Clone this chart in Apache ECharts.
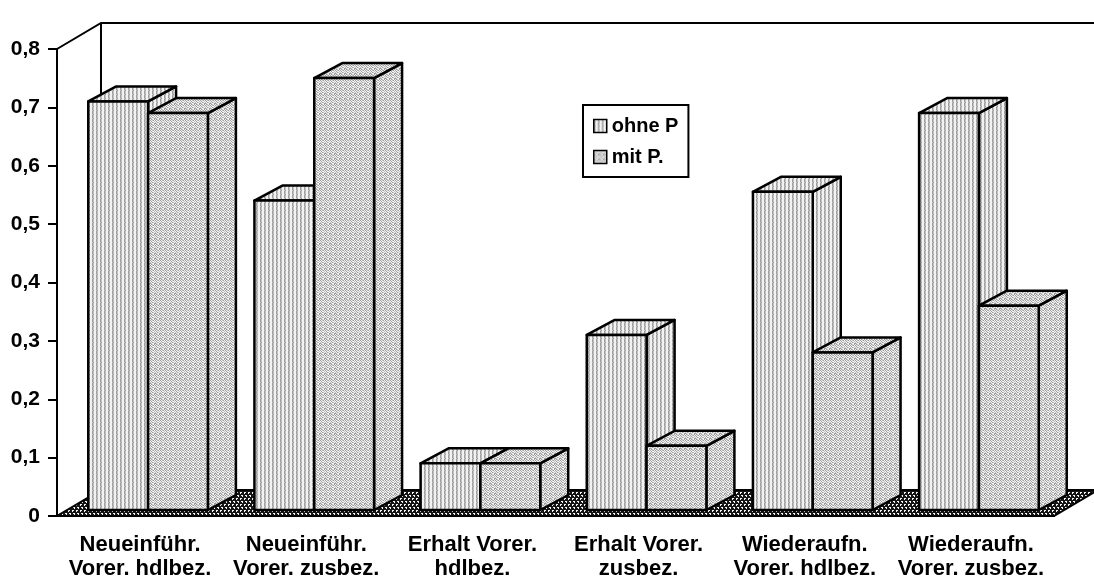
<!DOCTYPE html>
<html>
<head>
<meta charset="utf-8">
<script src="https://cdn.jsdelivr.net/npm/echarts@6/dist/echarts.min.js"></script>
<style>
  html, body { margin: 0; padding: 0; background: #fff; }
  #chart { width: 1094px; height: 581px; }
</style>
</head>
<body>
<div id="chart"></div>
<script>
const categories = [
    'Neueinführ.\nVorer. hdlbez.',
    'Neueinführ.\nVorer. zusbez.',
    'Erhalt Vorer.\nhdlbez.',
    'Erhalt Vorer.\nzusbez.',
    'Wiederaufn.\nVorer. hdlbez.',
    'Wiederaufn.\nVorer. zusbez.'
];
const ohneP = [0.70, 0.53, 0.08, 0.30, 0.545, 0.68];
const mitP = [0.68, 0.74, 0.08, 0.11, 0.27, 0.35];
const seriesNames = ['ohne P', 'mit P.'];

const FONT = '"Liberation Sans", Arial, sans-serif';
// 3d offsets (px): wall/floor depth, bar front plane shift, bar depth
const WALL = [44, -26];
const FRONT = [8, -6];
const DEPTH = [28, -15];

function makePattern(rows) {
    const c = document.createElement('canvas');
    c.width = rows[0].length;
    c.height = rows.length;
    const ctx = c.getContext('2d');
    rows.forEach((row, y) => {
        for (let x = 0; x < row.length; x++) {
            ctx.fillStyle = row[x] === '#' ? '#9c9c9c' : row[x] === '+' ? '#c4c4c4' : row[x] === 'x' ? '#151515' : '#f2f2f2';
            ctx.fillRect(x, y, 1, 1);
        }
    });
    return { image: c, repeat: 'repeat' };
}

// light gray with fine vertical lines
const ohneFill = makePattern(['#+..', '#+..', '+#..', '#+..']);
// darker stipple
const mitFill = makePattern(['#.+#.', '.#..+', '+.#+.', '#+..#', '.#+.#']);
// dark floor with staggered white dots
const floorFill = makePattern(['..xx', '.xxx', 'xxxx', 'x..x', 'xx.x', 'xxxx']);

function wallsItem(params, api) {
    const cs = params.coordSys;
    const y0 = cs.y + cs.height;
    const x0 = cs.x, x1 = cs.x + cs.width;
    const line = { stroke: '#000', lineWidth: 2, fill: null };
    return {
        type: 'group',
        children: [
            {
                type: 'polygon',
                shape: { points: [[x0, y0], [x1, y0], [x1 + WALL[0], y0 + WALL[1]], [x0 + WALL[0], y0 + WALL[1]]] },
                style: { fill: floorFill, stroke: '#000', lineWidth: 2 }
            },
            {
                type: 'polyline',
                shape: { points: [[x0, cs.y], [x0 + WALL[0], cs.y + WALL[1]], [x1 + WALL[0] + 10, cs.y + WALL[1]]] },
                style: line
            },
            {
                type: 'line',
                shape: { x1: x0 + WALL[0], y1: cs.y + WALL[1], x2: x0 + WALL[0], y2: y0 + WALL[1] },
                style: line
            }
        ]
    };
}

function barItem(slot, fill) {
    return function (params, api) {
        const cat = api.value(0);
        const base = api.coord([cat, 0]);
        const top = api.coord([cat, api.value(1)]);
        const band = api.size([1, 0])[0];
        const w = band * 0.36;
        const xa = base[0] - w + slot * w + FRONT[0];
        const xb = xa + w;
        const yb = base[1] + FRONT[1];
        const yt = top[1] + FRONT[1];
        const dx = DEPTH[0], dy = DEPTH[1];
        const st = { fill: fill, stroke: '#000', lineWidth: 2.5, lineJoin: 'round' };
        return {
            type: 'group',
            children: [
                { type: 'polygon', shape: { points: [[xb, yb], [xb + dx, yb + dy], [xb + dx, yt + dy], [xb, yt]] }, style: st },
                { type: 'polygon', shape: { points: [[xa, yt], [xb, yt], [xb + dx, yt + dy], [xa + dx, yt + dy]] }, style: st },
                { type: 'rect', shape: { x: xa, y: yt, width: w, height: yb - yt }, style: st }
            ]
        };
    };
}

const chart = echarts.init(document.getElementById('chart'), null, { renderer: 'canvas' });

chart.setOption({
    animation: false,
    backgroundColor: '#fff',
    textStyle: { fontFamily: FONT },
    grid: { left: 57, right: 40, top: 49, bottom: 63 },
    legend: {
        left: 583,
        top: 105,
        orient: 'vertical',
        icon: 'rect',
        itemWidth: 13,
        itemHeight: 13,
        itemGap: 11,
        padding: [11, 10, 10, 10],
        borderColor: '#000',
        borderWidth: 2,
        data: [
            { name: seriesNames[0], itemStyle: { color: ohneFill, borderColor: '#000', borderWidth: 1.5 } },
            { name: seriesNames[1], itemStyle: { color: mitFill, borderColor: '#000', borderWidth: 1.5 } }
        ],
        textStyle: { fontSize: 20, fontWeight: 'bold', color: '#000', fontFamily: FONT, lineHeight: 20 }
    },
    xAxis: {
        type: 'category',
        data: categories,
        axisLine: { lineStyle: { color: '#000', width: 2 } },
        axisTick: { length: 8, lineStyle: { color: '#000', width: 2 } },
        axisLabel: {
            margin: 17,
            fontSize: 22,
            fontWeight: 'bold',
            color: '#000',
            lineHeight: 24,
            fontFamily: FONT,
            interval: 0
        },
        splitLine: { show: false }
    },
    yAxis: {
        type: 'value',
        min: 0,
        max: 0.8,
        interval: 0.1,
        axisLine: { show: true, lineStyle: { color: '#000', width: 2 } },
        axisTick: { show: true, length: 9, lineStyle: { color: '#000', width: 2 } },
        axisLabel: {
            margin: 17,
            fontSize: 21,
            fontWeight: 'bold',
            color: '#000',
            fontFamily: FONT,
            formatter: v => (v === 0 ? '0' : v.toFixed(1).replace('.', ','))
        },
        splitLine: { show: false }
    },
    series: [
        {
            name: 'walls',
            type: 'custom',
            renderItem: wallsItem,
            data: [[0, 0]],
            silent: true,
            z: 1
        },
        {
            name: seriesNames[0],
            type: 'custom',
            renderItem: barItem(0, ohneFill),
            itemStyle: { color: ohneFill },
            data: ohneP.map((v, i) => [i, v]),
            z: 2
        },
        {
            name: seriesNames[1],
            type: 'custom',
            renderItem: barItem(1, mitFill),
            itemStyle: { color: mitFill },
            data: mitP.map((v, i) => [i, v]),
            z: 3
        }
    ]
});
</script>
</body>
</html>
